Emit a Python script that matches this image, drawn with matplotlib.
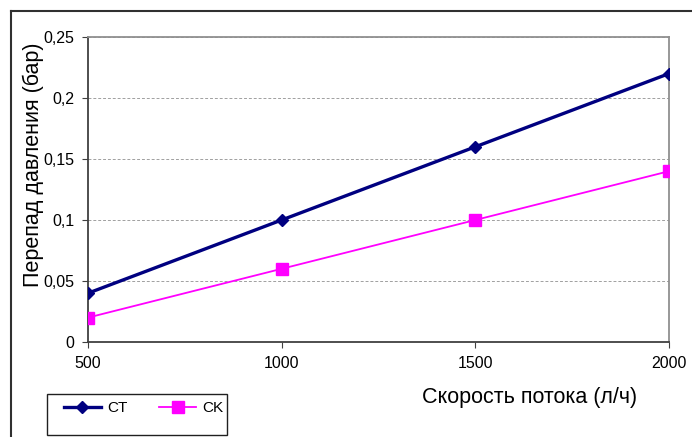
import matplotlib
matplotlib.use("Agg")
import matplotlib.pyplot as plt
from matplotlib.lines import Line2D
from matplotlib.patches import Rectangle

flow = [500, 1000, 1500, 2000]
ct = [0.04, 0.10, 0.16, 0.22]
ck = [0.02, 0.06, 0.10, 0.14]
y_ticks = [0, 0.05, 0.1, 0.15, 0.2, 0.25]
y_labels = ["0", "0,05", "0,1", "0,15", "0,2", "0,25"]

plt.rcParams['font.family'] = ['Liberation Sans Narrow', 'Liberation Sans', 'DejaVu Sans']

W, H = 692, 437
fig = plt.figure(figsize=(W / 100, H / 100), dpi=100)
ax = fig.add_axes([88 / W, 95 / H, 581 / W, 305 / H])

ax.plot(flow, ct, color='#000080', lw=2.4, marker='D', ms=6, label='CT', zorder=3)
ax.plot(flow, ck, color='#FF00FF', lw=1.3, marker='s', ms=8, label='CK', zorder=3)

ax.set_xlim(500, 2000)
ax.set_ylim(0, 0.25)
ax.set_xticks(flow)
ax.set_xticklabels([str(v) for v in flow])
ax.set_yticks(y_ticks)
ax.set_yticklabels(y_labels)
ax.tick_params(labelsize=11.5, length=4, color='#404040', pad=6)
ax.yaxis.grid(True, ls=(0, (3, 2)), color='#a0a0a0', lw=0.7)

for s in ['top', 'right']:
    ax.spines[s].set_color('#909090')
    ax.spines[s].set_linewidth(1.3)
for s in ['left', 'bottom']:
    ax.spines[s].set_color('#404040')
    ax.spines[s].set_linewidth(1.3)

fig.text(33 / W, 1 - 165 / H, 'Перепад давления (бар)', rotation=90,
         ha='center', va='center', fontsize=15.5, family='Liberation Sans')
fig.text(530 / W, 1 - 398 / H, 'Скорость потока (л/ч)',
         ha='center', va='center', fontsize=15.5, family='Liberation Sans')

# outer frame (top and left edges only)
fig.add_artist(Line2D([11 / W, 1.0], [1 - 11 / H] * 2, color='#303030', lw=1.5))
fig.add_artist(Line2D([11 / W] * 2, [0, 1 - 11 / H], color='#303030', lw=1.5))

# legend box
fig.add_artist(Rectangle((47 / W, 1 - 435 / H), 180 / W, 41 / H,
                         transform=fig.transFigure, fill=False,
                         edgecolor='#202020', lw=1.0))
fig.legend(loc='center left', bbox_to_anchor=(64 / W, 1 - 408 / H), ncol=2,
           frameon=False, fontsize=11, handlelength=2.4,
           columnspacing=2.1, borderpad=0, borderaxespad=0, handletextpad=0.4,
           bbox_transform=fig.transFigure)

fig.savefig('out.png', dpi=100)
